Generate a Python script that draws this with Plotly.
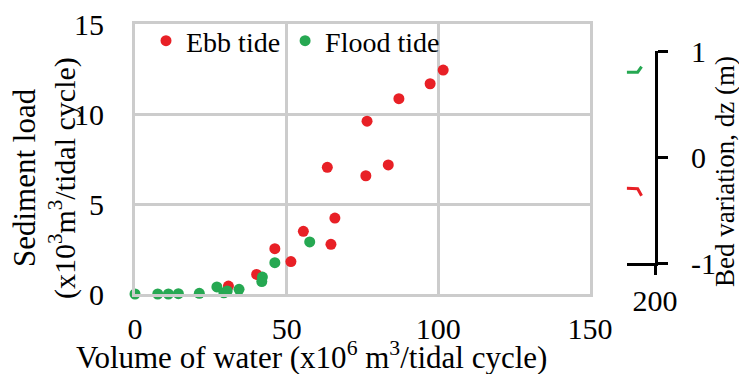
import plotly.graph_objects as go

W, H = 739, 374

# Main chart data
ebb_x = [30.8, 40.1, 46.1, 51.4, 55.5, 64.6, 65.9, 63.4, 76.1, 76.5, 83.5, 87.0, 97.3, 101.6]
ebb_y = [0.44, 1.09, 2.52, 1.80, 3.48, 2.76, 4.22, 7.04, 6.57, 9.60, 7.17, 10.85, 11.68, 12.44]
flood_x = [0.0, 7.5, 11.0, 14.3, 21.2, 27.0, 29.3, 30.4, 34.3, 41.8, 42.0, 46.1, 57.6]
flood_y = [0.0, 0.0, 0.0, 0.02, 0.04, 0.39, 0.07, 0.17, 0.26, 0.69, 0.94, 1.74, 2.89]

x_ticks = [0, 50, 100, 150]
y_ticks = [0, 5, 10, 15]

# Secondary (bed variation) fragment data
bed_green_x = [196.0, 197.55, 198.1]
bed_green_y = [0.80, 0.80, 0.852]
bed_red_x = [196.0, 197.55, 198.1]
bed_red_y = [-0.295, -0.30, -0.365]
dz_ticks = [-1, 0, 1]
dz_labels = ["-1", "0", "1"]
x2_ticks = [200]

RED = "rgb(232,32,38)"
GREEN = "rgb(38,168,82)"
GRID = "rgb(204,204,204)"
FONT = "Times New Roman, Liberation Serif, DejaVu Serif, serif"
FS = 30

def px_x(p):
    return p / W

def px_y(p):
    return 1 - p / H

fig = go.Figure()
fig.add_trace(go.Scatter(x=ebb_x, y=ebb_y, mode="markers", name="Ebb tide",
                         marker=dict(color=RED, size=11), cliponaxis=False))
fig.add_trace(go.Scatter(x=flood_x, y=flood_y, mode="markers", name="Flood tide",
                         marker=dict(color=GREEN, size=11), cliponaxis=False))
fig.add_trace(go.Scatter(x=bed_green_x, y=bed_green_y, mode="lines", showlegend=False,
                         line=dict(color=GREEN, width=3), xaxis="x2", yaxis="y2"))
fig.add_trace(go.Scatter(x=bed_red_x, y=bed_red_y, mode="lines", showlegend=False,
                         line=dict(color=RED, width=3), xaxis="x2", yaxis="y2"))

fig.update_layout(
    width=W, height=H,
    margin=dict(l=0, r=0, t=0, b=0, autoexpand=False),
    paper_bgcolor="white", plot_bgcolor="white",
    font=dict(family=FONT, size=FS, color="black"),
    showlegend=True,
    legend=dict(orientation="h", x=px_x(146), xanchor="left", y=px_y(41), yanchor="middle",
                bgcolor="rgba(0,0,0,0)", font=dict(family=FONT, size=28),
                itemwidth=30, tracegroupgap=0),
    xaxis=dict(domain=[px_x(135), px_x(590)], range=[0, 150], tickvals=x_ticks,
               showgrid=True, gridcolor=GRID, gridwidth=3, zeroline=False,
               showline=True, linecolor=GRID, linewidth=3, mirror=True,
               ticks="", ticklabelstandoff=6, anchor="y", automargin=False),
    yaxis=dict(domain=[px_y(294), px_y(24)], range=[0, 15], tickvals=y_ticks,
               showgrid=True, gridcolor=GRID, gridwidth=3, zeroline=False,
               showline=True, linecolor=GRID, linewidth=3, mirror=True,
               ticks="", ticklabelstandoff=22, anchor="x", automargin=False),
    xaxis2=dict(domain=[px_x(626.7), px_x(655)], range=[196, 200], tickvals=x2_ticks,
                showgrid=False, zeroline=False, showline=True, linecolor="black", linewidth=3,
                ticks="outside", ticklen=9, tickwidth=3, tickcolor="black",
                ticklabelstandoff=0, anchor="y2", automargin=False),
    yaxis2=dict(domain=[px_y(263), px_y(51)], range=[-1, 1], tickvals=dz_ticks,
                ticktext=dz_labels,
                side="right", showgrid=False, zeroline=False, showline=True,
                linecolor="black", linewidth=3, ticks="outside", ticklen=10,
                tickwidth=3, tickcolor="black", ticklabelstandoff=17, anchor="x2",
                automargin=False),
)

ann = [
    dict(text="Volume of water (x10<sup>6</sup> m<sup>3</sup>/tidal cycle)", x=px_x(311), y=px_y(355), size=31),
    dict(text="Sediment load", x=px_x(24), y=px_y(178), textangle=-90, size=31),
    dict(text="(x10<sup>3</sup>m<sup>3</sup>/tidal cycle)", x=px_x(62), y=px_y(178), textangle=-90, size=30),
    dict(text="Bed variation, dz (m)", x=px_x(725), y=px_y(172), textangle=-90, size=27),
]
for a in ann:
    sz = a.pop("size")
    fig.add_annotation(xref="paper", yref="paper", showarrow=False,
                       xanchor="center", yanchor="middle",
                       font=dict(family=FONT, size=sz, color="black"), **a)

fig.write_html("out.html")
